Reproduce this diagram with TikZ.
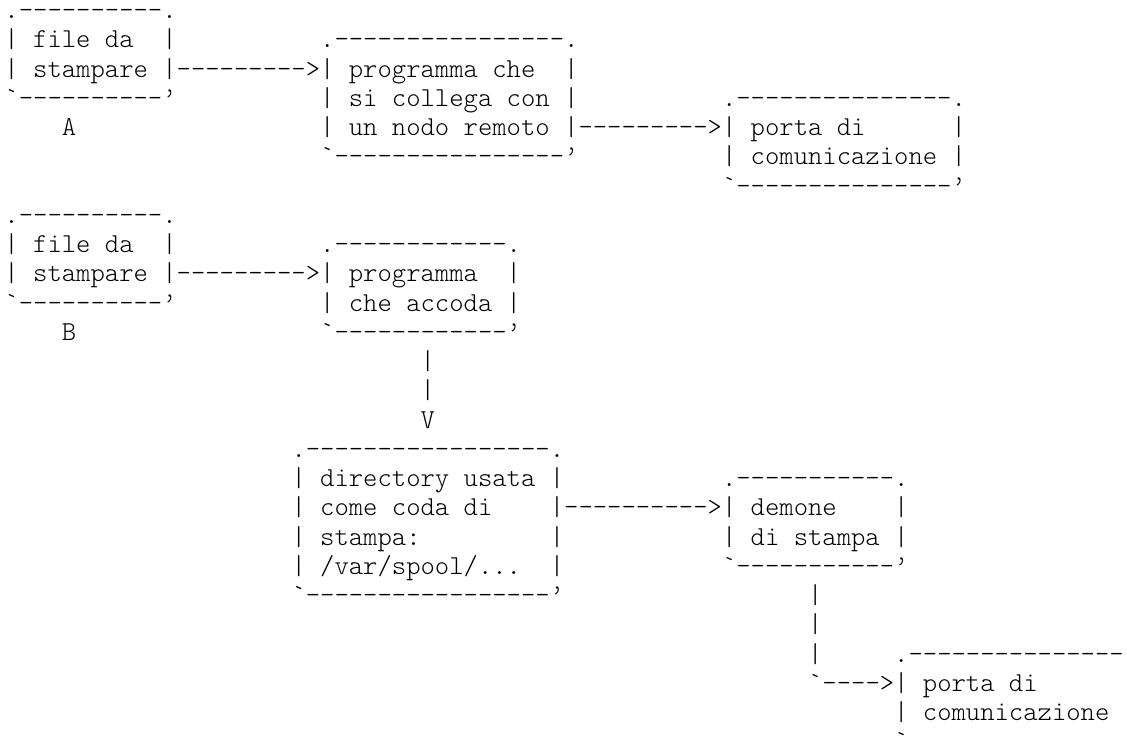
\documentclass[tikz,border=0pt]{standalone}
\begin{document}
\begin{tikzpicture}[
  ascii/.style={anchor=base west, inner sep=0pt, outer sep=0pt,
    font=\fontsize{27.33}{29.3}\fontseries{l}\ttfamily\selectfont}]
\useasboundingbox (0,0) rectangle (1127pt,-742pt);
\begin{scope}[shift={(4.5pt,-18.5pt)}, x=14.35pt, y=-29.25pt]
% --- section A ---
\node[ascii] (fa0) at (0,0) {.----------.};
\node[ascii] (fa1) at (0,1) {|~file~da~~|};
\node[ascii] (fa2) at (0,2) {|~stampare~|};
\node[ascii] (fa3) at (0,3) {`----------’};
\node[ascii] (labA) at (4,4) {A};
\node[ascii] (arrA1) at (12,2) {--------->};
\node[ascii] (pr0) at (22,1) {.----------------.};
\node[ascii] (pr1) at (22,2) {|~programma~che~~|};
\node[ascii] (pr2) at (22,3) {|~si~collega~con~|};
\node[ascii] (pr3) at (22,4) {|~un~nodo~remoto~|};
\node[ascii] (pr4) at (22,5) {`----------------’};
\node[ascii] (arrA2) at (40,4) {--------->};
\node[ascii] (pa0) at (50,3) {.---------------.};
\node[ascii] (pa1) at (50,4) {|~porta~di~~~~~~|};
\node[ascii] (pa2) at (50,5) {|~comunicazione~|};
\node[ascii] (pa3) at (50,6) {`---------------’};
% --- section B ---
\node[ascii] (fb0) at (0,7) {.----------.};
\node[ascii] (fb1) at (0,8) {|~file~da~~|};
\node[ascii] (fb2) at (0,9) {|~stampare~|};
\node[ascii] (fb3) at (0,10) {`----------’};
\node[ascii] (labB) at (4,11) {B};
\node[ascii] (arrB1) at (12,9) {--------->};
\node[ascii] (qa0) at (22,8) {.------------.};
\node[ascii] (qa1) at (22,9) {|~programma~~|};
\node[ascii] (qa2) at (22,10) {|~che~accoda~|};
\node[ascii] (qa3) at (22,11) {`------------’};
\node[ascii] (v1) at (29,12) {|};
\node[ascii] (v2) at (29,13) {|};
\node[ascii] (v3) at (29,14) {V};
\node[ascii] (dq0) at (20,15) {.-----------------.};
\node[ascii] (dq1) at (20,16) {|~directory~usata~|};
\node[ascii] (dq2) at (20,17) {|~come~coda~di~~~~|};
\node[ascii] (dq3) at (20,18) {|~stampa:~~~~~~~~~|};
\node[ascii] (dq4) at (20,19) {|~/var/spool/...~~|};
\node[ascii] (dq5) at (20,20) {`-----------------’};
\node[ascii] (arrB2) at (39,17) {---------->};
\node[ascii] (dm0) at (50,16) {.-----------.};
\node[ascii] (dm1) at (50,17) {|~demone~~~~|};
\node[ascii] (dm2) at (50,18) {|~di~stampa~|};
\node[ascii] (dm3) at (50,19) {`-----------’};
\node[ascii] (w1) at (56,20) {|};
\node[ascii] (w2) at (56,21) {|};
\node[ascii] (w3) at (56,22) {|};
\node[ascii] (w4) at (56,23) {`---->};
\node[ascii] (pb0) at (62,22) {.---------------};
\node[ascii] (pb1) at (62,23) {|~porta~di};
\node[ascii] (pb2) at (62,24) {|~comunicazione};
\node[ascii] (pb3) at (62,25) {`};
\end{scope}
\end{tikzpicture}
\end{document}
